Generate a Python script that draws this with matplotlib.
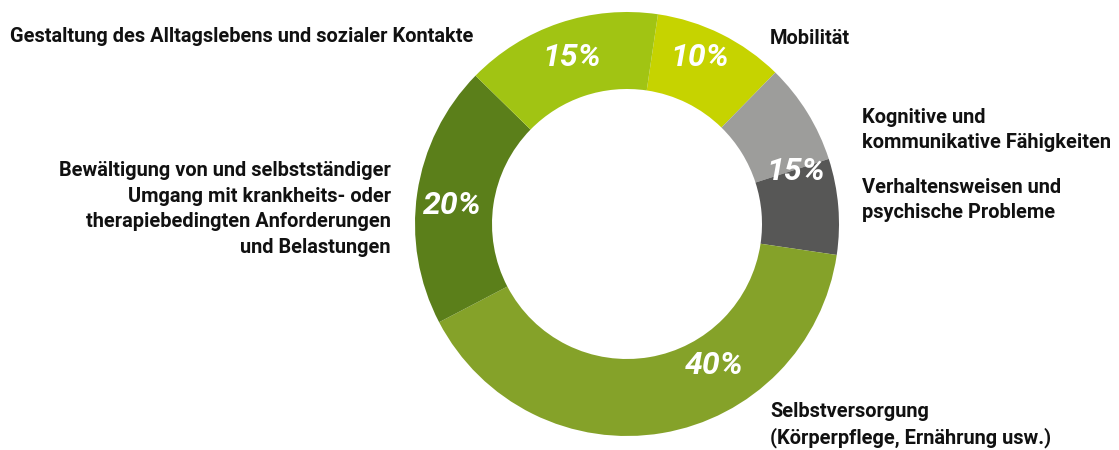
import matplotlib.pyplot as plt

# data: segments clockwise, starting at Mobilität
segments = ["Mobilität", "Kognitive Fähigkeiten", "Verhaltensweisen",
            "Selbstversorgung", "Bewältigung", "Gestaltung"]
shares = [10, 7.7, 7.3, 40, 20, 15]
colors = ["#c6d300", "#9d9d9b", "#575756", "#85a229", "#5b7f1a", "#a1c413"]

pct_texts = ["10%", "15%", "40%", "20%", "15%"]
pct_pos = [(700, 58), (796, 172), (714, 365), (452, 205), (572, 58)]

cat_labels = [
    "Gestaltung des Alltagslebens und sozialer Kontakte",
    "Bewältigung von und selbstständiger\nUmgang mit krankheits- oder\ntherapiebedingten Anforderungen\nund Belastungen",
    "Mobilität",
    "Kognitive und\nkommunikative Fähigkeiten",
    "Verhaltensweisen und\npsychische Probleme",
    "Selbstversorgung\n(Körperpflege, Ernährung usw.)",
]
# block centres (x, y, alignment) in pixels from top-left
cat_pos = [(10, 37, "left"), (391, 209, "right"), (770, 38, "left"),
           (862, 130, "left"), (862, 200, "left"), (770, 425, "left")]

fam = ["Roboto", "DejaVu Sans"]

W, H = 1119, 450
fig = plt.figure(figsize=(W / 100, H / 100), dpi=100)
ax = fig.add_axes([0, 0, 1, 1])

cx, cy, R = 627, H - 224, 212
ax.pie(shares, colors=colors, startangle=81.6, counterclock=False,
       center=(cx, cy), radius=R,
       wedgeprops=dict(width=77, linewidth=0))

for t, (x, y) in zip(pct_texts, pct_pos):
    ax.text(x, H - y, t, color="white", fontsize=23, fontweight="bold",
            fontstyle="italic", family=fam, ha="center", va="center")

for t, (x, y, ha) in zip(cat_labels, cat_pos):
    ax.text(x, H - y, t, color="#111111", fontsize=14.4, fontweight="bold",
            family=fam, ha=ha, va="center", linespacing=1.45)

ax.set_xlim(0, W)
ax.set_ylim(0, H)
ax.set_aspect("auto")
ax.axis("off")
fig.savefig("out.png", dpi=100, facecolor="white")
